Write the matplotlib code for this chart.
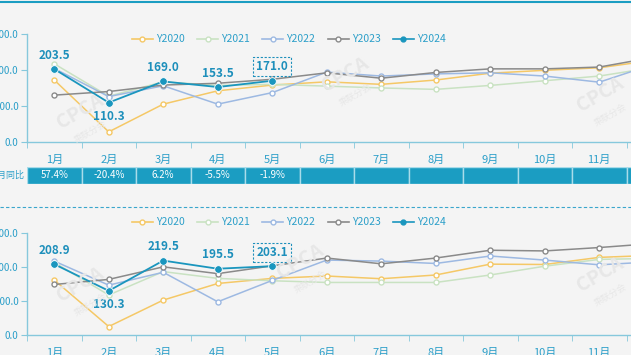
import numpy as np
import matplotlib
matplotlib.use('Agg')
import matplotlib.pyplot as plt
from matplotlib.lines import Line2D

plt.rcParams['font.family'] = ['Noto Sans CJK SC', 'DejaVu Sans']

months = ['1月', '2月', '3月', '4月', '5月', '6月', '7月', '8月', '9月', '10月', '11月', '12月']
years = ['Y2020', 'Y2021', 'Y2022', 'Y2023', 'Y2024']

# upper panel (retail)
top_2020 = [173, 29, 106, 143, 159, 168, 161, 173, 192, 200, 207, 228]
top_2021 = [218, 128, 168, 158, 161, 156, 151, 147, 158, 171, 184, 208]
top_2022 = [205, 127, 157, 106, 138, 195, 184, 190, 193, 184, 167, 217]
top_2023 = [131, 141, 159, 164, 175, 193, 178, 194, 204, 204, 209, 236]
top_2024 = [203.5, 110.3, 169.0, 153.5, 171.0]
top_yoy = ['57.4%', '-20.4%', '6.2%', '-5.5%', '-1.9%']

# lower panel (wholesale)
bot_2020 = [162, 25, 103, 152, 167, 174, 166, 177, 209, 208, 229, 235]
bot_2021 = [214, 118, 187, 167, 160, 155, 155, 155, 177, 203, 223, 226]
bot_2022 = [218, 147, 185, 98, 161, 221, 218, 211, 233, 221, 207, 216]
bot_2023 = [149, 164, 201, 181, 204, 227, 210, 227, 250, 248, 258, 270]
bot_2024 = [208.9, 130.3, 219.5, 195.5, 203.1]

colors = ['#f5c866', '#c9e2c2', '#9db9e2', '#8a8a8a', '#1a96be']
txt_c = '#2c9fc9'
lab_c = '#1d8fbb'
spine_c = '#86c8dc'
bg = '#f4f4f4'

W, H = 631, 355
fig = plt.figure(figsize=(W / 100, H / 100), dpi=100, facecolor=bg)


def px(x0, y0, w, h):
    return [x0 / W, 1 - (y0 + h) / H, w / W, h / H]


def panel(ax, series, cur, boxed_idx, below_idx, legend_y):
    x = np.arange(12)
    ax.set_facecolor('none')
    for s, c in zip(series, colors[:4]):
        ax.plot(x, s, color=c, lw=1.1, marker='o', ms=3.6, mfc='white', mec=c, mew=1, zorder=2)
    xc = np.arange(len(cur))
    ax.plot(xc, cur, color=colors[4], lw=1.3, marker='o', ms=5.5, mfc=colors[4], mec='white', mew=0.6, zorder=4)
    for i, v in enumerate(cur):
        dy = -10 if i in below_idx else 10
        kw = {}
        if i == boxed_idx:
            kw['bbox'] = dict(boxstyle='square,pad=0.25', fc='none', ec=lab_c, ls=(0, (2, 1.5)), lw=0.8)
        ax.annotate(f'{v:.1f}', (i, v), xytext=(0, dy), textcoords='offset points',
                    ha='center', va='center', fontsize=8.5, fontweight='bold', color=lab_c, **kw)
    ax.set_xlim(-0.5, 11.5)
    ax.set_ylim(0, 300)
    ax.set_yticks([0, 100, 200, 300])
    ax.set_yticklabels([f'{t:.1f}' for t in [0, 100, 200, 300]])
    ax.set_xticks(x)
    ax.set_xticklabels(months)
    ax.set_xticks(np.arange(-0.5, 12, 1), minor=True)
    ax.tick_params(axis='x', which='major', length=0, pad=9, labelsize=8, labelcolor=txt_c)
    ax.tick_params(axis='x', which='minor', length=4, color=spine_c, direction='out')
    ax.tick_params(axis='y', length=4, color=spine_c, pad=2, labelsize=7, labelcolor=txt_c)
    for sp in ['top', 'right']:
        ax.spines[sp].set_visible(False)
    for sp in ['left', 'bottom']:
        ax.spines[sp].set_color(spine_c)
        ax.spines[sp].set_linewidth(1)
    handles = []
    for i, c in enumerate(colors):
        if i == 4:
            handles.append(Line2D([], [], color=c, lw=1.2, marker='o', ms=3.5, mfc=c, mec=c))
        else:
            handles.append(Line2D([], [], color=c, lw=1.2, marker='o', ms=3.5, mfc='white', mec=c))
    ax.legend(handles, years, loc='center left', bbox_to_anchor=(132 / W, 1 - legend_y / H),
              bbox_transform=fig.transFigure, ncol=5, frameon=False, fontsize=7.5,
              handlelength=2.0, handletextpad=0.3, columnspacing=1.2, borderpad=0,
              borderaxespad=0, labelcolor=txt_c)


# faint watermarks
for (wx, wy) in [(80, 112), (345, 75), (600, 95), (80, 285), (300, 262), (600, 275)]:
    fig.text(wx / W, 1 - wy / H, 'CPCA', fontsize=14, fontweight='bold', color='#e7e7e7',
             rotation=30, ha='center', va='center', zorder=0)
    fig.text((wx + 10) / W, 1 - (wy + 20) / H, '乘联分会', fontsize=6.5, color='#e7e7e7',
             rotation=30, ha='center', va='center', zorder=0)

ax1 = fig.add_axes(px(27, 34.3, 654, 108))
panel(ax1, [top_2020, top_2021, top_2022, top_2023], top_2024, 4, [1], 39.3)

ax2 = fig.add_axes(px(27, 233.3, 654, 101.7))
panel(ax2, [bot_2020, bot_2021, bot_2022, bot_2023], bot_2024, 4, [1], 222.3)

# year-on-year row
axt = fig.add_axes(px(27, 167, 654, 17))
axt.bar(np.arange(12), [1] * 12, width=1, color='#1b9dc2', edgecolor='#a9dcea', linewidth=1)
for i, t in enumerate(top_yoy):
    axt.text(i, 0.5, t, ha='center', va='center', color='white', fontsize=7)
axt.set_xlim(-0.5, 11.5)
axt.set_ylim(0, 1)
axt.axis('off')
fig.text(25 / W, 1 - 175.5 / H, '当月同比', ha='right', va='center', fontsize=6.5, color=txt_c)

# separators
fig.add_artist(Line2D([0, 1], [1 - 1.7 / H, 1 - 1.7 / H], color='#1b9dc2', lw=1.5))
fig.add_artist(Line2D([0, 1], [1 - 206.7 / H, 1 - 206.7 / H], color='#3aa6cc', lw=0.8, ls=(0, (3, 2))))

fig.savefig('out.png', dpi=100, facecolor=bg)
